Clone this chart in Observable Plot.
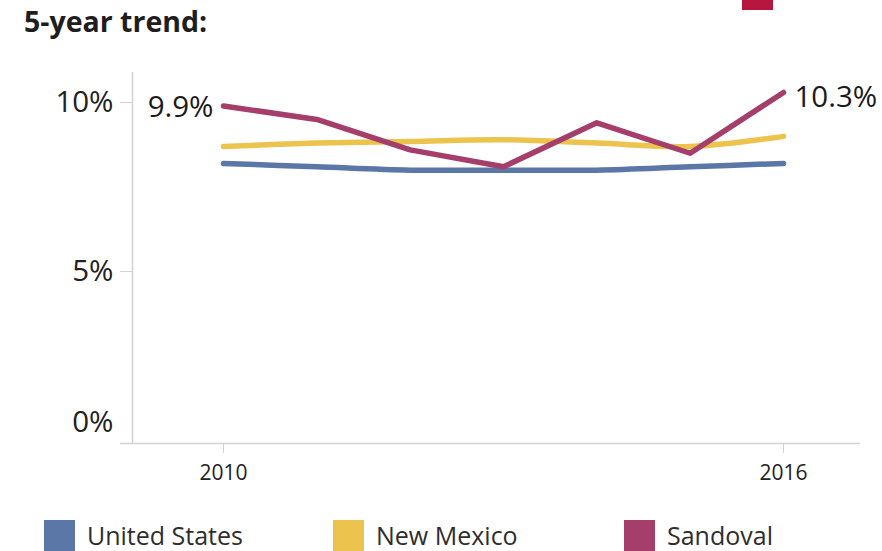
<!DOCTYPE html>
<html>
<head>
<meta charset="utf-8">
<script src="https://cdn.jsdelivr.net/npm/d3@7"></script>
<script src="https://cdn.jsdelivr.net/npm/@observablehq/plot@0.6"></script>
<style>
  html, body { margin: 0; padding: 0; background: #fff; }
  body { position: relative; width: 882px; height: 551px; overflow: hidden; font-family: "Open Sans", sans-serif; }
  #title { position: absolute; left: 24px; top: 2px; font-size: 28.5px; font-weight: bold; color: #1e1e1e; white-space: nowrap; }
  #flag { position: absolute; left: 742px; top: 0; width: 31px; height: 10px; background: #b7163f; }
  #chart { position: absolute; left: 0; top: 50px; }
  .leg { position: absolute; top: 520px; display: flex; align-items: flex-start; font-size: 25px; color: #2e2e2e; white-space: nowrap; }
  .leg .sw { width: 31px; height: 31px; margin-right: 12px; }
  .leg span { line-height: 30px; }
</style>
</head>
<body>
<div id="title">5-year trend:</div>
<div id="flag"></div>
<div id="chart"></div>
<div id="legend"></div>
<script>
// ---- data ----
const years = [2010, 2011, 2012, 2013, 2014, 2015, 2016];
const unitedStates = [8.2, 8.1, 8.0, 8.0, 8.0, 8.1, 8.2];
const newMexico = [8.7, 8.8, 8.85, 8.9, 8.8, 8.7, 9.0];
const sandoval = [9.9, 9.5, 8.6, 8.1, 9.4, 8.5, 10.3];
const seriesNames = ["United States", "New Mexico", "Sandoval"];
const seriesColors = ["#5b77a8", "#ebc34d", "#a63e6b"];
const yTicks = [0, 5, 10];
const xTicks = [2010, 2016];

const toRows = (name, vals) => years.map((y, i) => ({series: name, year: y, value: vals[i]}));
const usRows = toRows("United States", unitedStates);
const nmRows = toRows("New Mexico", newMexico);
const sdRows = toRows("Sandoval", sandoval);

const xDomain = [2009.025, 2016.825];
const yDomain = [-0.09, 10.89];

const plot = Plot.plot({
  width: 882,
  height: 450,
  marginLeft: 132,
  marginRight: 22,
  marginTop: 22,
  marginBottom: 57,
  style: {fontFamily: "Open Sans, sans-serif", background: "transparent", overflow: "visible"},
  x: {domain: xDomain},
  y: {domain: yDomain},
  marks: [
    // axis lines
    Plot.ruleX([xDomain[0]], {y1: yDomain[0], y2: yDomain[1], stroke: "#d2d2d2", strokeWidth: 1.5}),
    Plot.ruleY([yDomain[0]], {x1: xDomain[0] - 0.13, x2: xDomain[1], stroke: "#d2d2d2", strokeWidth: 1.5}),
    // y axis
    Plot.axisY({ticks: yTicks.filter(d => d > 0), tickSize: 12, tickPadding: 7, stroke: "#d2d2d2",
      tickFormat: d => d + "%", fontSize: 29.5, color: "#222", label: null}),
    Plot.axisY({ticks: yTicks.filter(d => d === 0), tickSize: 0, tickPadding: 19, dy: -18,
      tickFormat: d => d + "%", fontSize: 29.5, color: "#222", label: null}),
    // x axis
    Plot.axisX({ticks: xTicks, tickSize: 10, tickPadding: 12, tickFormat: d => String(d), fontSize: 21,
      color: "#222", stroke: "#d2d2d2", label: null}),
    // lines
    Plot.line(usRows, {x: "year", y: "value", stroke: seriesColors[0], strokeWidth: 5.5, curve: "catmull-rom"}),
    Plot.line(nmRows, {x: "year", y: "value", stroke: seriesColors[1], strokeWidth: 5.5, curve: "catmull-rom"}),
    Plot.line(sdRows, {x: "year", y: "value", stroke: seriesColors[2], strokeWidth: 5.5}),
    // end labels
    Plot.text([sdRows[0]], {x: "year", y: "value", text: d => d.value.toFixed(1) + "%", textAnchor: "end", dx: -10, dy: 2, fontSize: 29.5, fill: "#1a1a1a"}),
    Plot.text([sdRows[sdRows.length - 1]], {x: "year", y: "value", text: d => d.value.toFixed(1) + "%", textAnchor: "start", dx: 11, dy: 5, fontSize: 29.5, fill: "#1a1a1a"})
  ]
});
document.getElementById("chart").appendChild(plot);

// legend
const legendX = [44, 333, 624];
const legend = document.getElementById("legend");
seriesNames.forEach((n, i) => {
  const d = document.createElement("div");
  d.className = "leg";
  d.style.left = legendX[i] + "px";
  d.innerHTML = `<div class="sw" style="background:${seriesColors[i]}"></div><span>${n}</span>`;
  legend.appendChild(d);
});
</script>
</body>
</html>
